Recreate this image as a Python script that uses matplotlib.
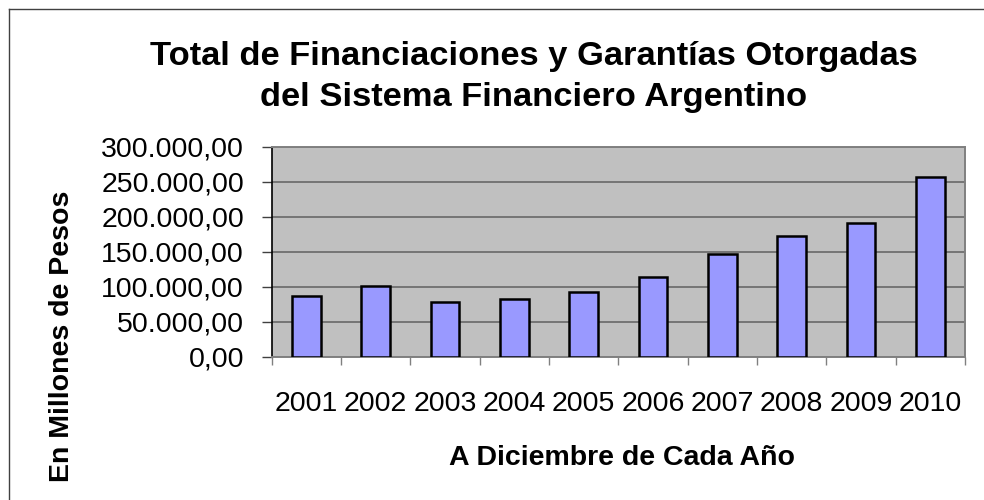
import matplotlib
matplotlib.use("Agg")
import matplotlib.pyplot as plt
from matplotlib.lines import Line2D

plt.rcParams['font.family'] = ['Liberation Sans', 'DejaVu Sans']

# data (millones de pesos, a diciembre)
years = ['2001', '2002', '2003', '2004', '2005', '2006', '2007', '2008', '2009', '2010']
totals = [87100, 101000, 78100, 81900, 91900, 113800, 146200, 172900, 191400, 257100]
y_ticks = [0, 50000, 100000, 150000, 200000, 250000, 300000]
y_tick_labels = ['0,00', '50.000,00', '100.000,00', '150.000,00',
                 '200.000,00', '250.000,00', '300.000,00']

W, H = 984, 500
fig = plt.figure(figsize=(W / 100, H / 100), dpi=100)
fig.patch.set_facecolor('white')

# plot area
ax = fig.add_axes([271.7 / W, 1 - 356.7 / H, (965 - 271.7) / W, (356.7 - 146.7) / H])
ax.set_facecolor('#C0C0C0')

x = range(len(years))
ax.bar(x, totals, width=0.41, color='#9999FF', edgecolor='black', linewidth=1.8, zorder=3)

ax.set_xlim(-0.5, len(years) - 0.5)
ax.set_ylim(0, 300000)

ax.set_yticks(y_ticks)
ax.set_yticklabels(y_tick_labels, fontsize=20.5)
ax.yaxis.grid(True, color='#606060', linewidth=1.1, zorder=1)
ax.set_axisbelow(True)
ax.tick_params(axis='y', direction='out', length=7, width=1, color='#404040', pad=13)

# labels centred on categories, tick marks on the boundaries
ax.set_xticks(list(x))
ax.set_xticklabels(years, fontsize=20.5)
ax.set_xticks([i - 0.5 for i in range(len(years) + 1)], minor=True)
ax.tick_params(axis='x', which='major', length=0, pad=25)
ax.tick_params(axis='x', which='minor', direction='out', length=6, width=1, color='#808080')

ax.spines['left'].set_color('black')
ax.spines['left'].set_linewidth(1.2)
for s in ['top', 'right', 'bottom']:
    ax.spines[s].set_color('#808080')
    ax.spines[s].set_linewidth(1.4)

# titles
fig.text(534 / W, 1 - 65 / H, 'Total de Financiaciones y Garantías Otorgadas',
         ha='center', va='baseline', fontsize=24.8, fontweight='bold')
fig.text(534 / W, 1 - 106 / H, 'del Sistema Financiero Argentino',
         ha='center', va='baseline', fontsize=24.8, fontweight='bold')
fig.text(621.7 / W, 1 - 465 / H, 'A Diciembre de Cada Año',
         ha='center', va='baseline', fontsize=20.5, fontweight='bold')
fig.text(62 / W, 1 - 336 / H, 'En Millones de Pesos', rotation=90,
         ha='center', va='center', fontsize=20.5, fontweight='bold')

# chart border (only top and left visible)
fig.add_artist(Line2D([9 / W, 1.0], [1 - 9 / H, 1 - 9 / H], color='#404040', linewidth=1))
fig.add_artist(Line2D([9 / W, 9 / W], [0.0, 1 - 9 / H], color='#404040', linewidth=1))

fig.savefig('out.png', dpi=100)
